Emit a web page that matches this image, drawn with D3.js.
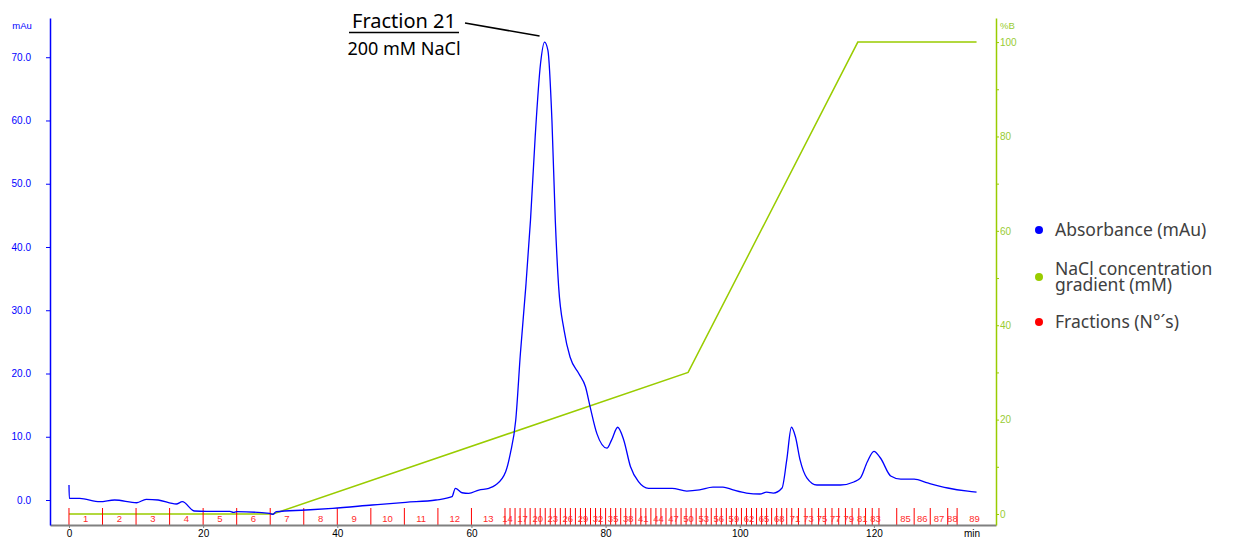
<!DOCTYPE html>
<html lang="en">
<head>
<meta charset="UTF-8">
<title>Ion exchange chromatogram</title>
<script src="https://d3js.org/d3.v7.min.js"></script>
<style>
    body { margin: 0; background: #fff; }
    .tick text { font-family: "Liberation Sans", Arial, sans-serif; }
    .legend text, .note text { font-family: "Noto Sans", "Open Sans", sans-serif; }
</style>
</head>
<body>
<div id="chart"></div>
<script>
    // absorbance trace (min, mAu)
    const absTime = [0, 0.05, 1.6, 4.6, 6.8, 10.1, 11.5, 13.3, 16.0, 16.9, 18.7, 20.5, 24, 24.5, 25,
        29.9, 30.4, 30.9, 35.3, 39.3, 45.2, 50.2, 54.7, 57.1, 57.6, 58.6, 59.6, 61.1, 62.6, 63.6,
        65.1, 65.8, 66.6, 67.3, 68.1, 68.8, 69.5, 70.3, 70.9, 71.4, 72.0, 72.5, 73.0, 73.8, 74.7,
        76.0, 77.0, 77.7, 78.7, 80.2, 80.9, 81.8, 82.7, 83.7, 84.9, 86.4, 89.9, 92.1, 94, 96,
        97.5, 99, 101, 103, 104, 105, 106.3, 107, 107.7, 108.3, 109, 110, 111.5, 115, 117,
        118, 119, 120, 121, 122.5, 124, 126, 128, 131, 134, 135.3];
    const absValue = [2.37, 0.27, 0.27, -0.27, 0, -0.43, 0.11, 0, -0.63, -0.27, -1.74, -1.79, -1.79, -1.95, -1.85,
        -2.1, -2.26, -1.85, -1.58, -1.31, -0.79, -0.36, 0, 0.52, 1.85, 1.15, 1.06, 1.58, 1.85, 2.37,
        4.47, 7.38, 12.6, 23.2, 33.7, 44.2, 57.4, 69.0, 72.4, 71.1, 60.0, 44.2, 33.7, 26.9, 22.6,
        20.0, 17.9, 14.7, 10.5, 8.2, 9.5, 11.5, 9.5, 5.3, 2.9, 1.85, 1.85, 1.42, 1.6, 2.05,
        2.05, 1.6, 1.1, 0.95, 1.25, 1.1, 1.9, 6.3, 11.5, 10.0, 6.3, 3.5, 2.37, 2.37, 2.85,
        3.5, 6.0, 7.7, 6.6, 3.8, 3.3, 3.3, 2.7, 1.9, 1.4, 1.25];

    // NaCl gradient (min, %B)
    const gradTime = [0, 30.4, 92.3, 117.6, 135.3];
    const gradValue = [0, 0, 30, 100, 100];

    // fraction start times (min), last entry is the end of fraction 89
    const fracNumbers = d3.range(1, 90);
    const fracStart = [0, 5, 10, 15, 20, 25, 30, 35, 40, 45, 50, 55, 60, 65,
        65.75, 66.5, 67.25, 68, 68.75, 69.5, 70.25, 71, 71.75, 72.5, 73.25, 74, 74.75, 75.5,
        76.25, 77, 77.75, 78.5, 79.25, 80, 80.75, 81.5, 82.25, 83, 83.75, 84.5, 85.25, 86,
        86.75, 87.5, 88.25, 89, 89.75, 90.5, 91.25, 92, 92.75, 93.5, 94.25, 95, 95.75, 96.5,
        97.25, 98, 98.75, 99.5, 100.25, 101, 101.75, 102.5, 103.25, 104, 104.75, 105.5, 106.25,
        107, 107.75, 108.75, 109.75, 110.75, 111.75, 112.75, 113.75, 114.75, 115.75, 116.75,
        117.75, 118.75, 119.75, 120.75, 123.4, 126, 128.4, 131, 132.4, 137.6];

    const leftTicks = [0, 10, 20, 30, 40, 50, 60, 70];
    const rightTicks = [0, 10, 20, 30, 40, 50, 60, 70, 80, 90, 100];
    const timeTicks = [0, 20, 40, 60, 80, 100, 120];

    const legendItems = [
        { color: "#0000ff", lines: ["Absorbance (mAu)"] },
        { color: "#99cc00", lines: ["NaCl concentration", "gradient (mM)"] },
        { color: "#ff0000", lines: ["Fractions (N\u00b0\u00b4s)"] }
    ];

    const width = 1233, height = 539;
    const blue = "#0000ff", green = "#99cc00", red = "#ff0000";

    const svg = d3.select("#chart").append("svg")
        .attr("width", width)
        .attr("height", height);

    const x = d3.scaleLinear().domain([-2.83, 138.2]).range([50, 996]);
    const yL = d3.scaleLinear().domain([-3.95, 76.2]).range([525, 18]);
    const yR = d3.scaleLinear().domain([-2.33, 105.1]).range([525, 18]);

    // gradient line
    const gradData = gradTime.map((t, i) => [t, gradValue[i]]);
    svg.append("path")
        .datum(gradData)
        .attr("fill", "none")
        .attr("stroke", green)
        .attr("stroke-width", 1.5)
        .attr("d", d3.line().x(d => x(d[0])).y(d => yR(d[1])));

    // fraction marks
    const fracG = svg.append("g");
    fracNumbers.forEach((n, i) => {
        fracG.append("line")
            .attr("x1", x(fracStart[i])).attr("x2", x(fracStart[i]))
            .attr("y1", 508).attr("y2", 525)
            .attr("stroke", red).attr("stroke-width", 1);
    });
    let lastLabel = -100;
    fracNumbers.forEach((n, i) => {
        const cx = (x(fracStart[i]) + x(fracStart[i + 1])) / 2;
        if (cx - lastLabel < 13) return;
        lastLabel = cx;
        fracG.append("text")
            .attr("x", cx).attr("y", 519)
            .attr("dy", "0.35em")
            .attr("text-anchor", "middle")
            .attr("fill", "#ff2a2a")
            .style("font", "9.5px 'Liberation Sans', Arial, sans-serif")
            .text(n);
    });

    // absorbance line
    const absData = absTime.map((t, i) => [t, absValue[i]]);
    svg.append("path")
        .datum(absData)
        .attr("fill", "none")
        .attr("stroke", blue)
        .attr("stroke-width", 1.3)
        .attr("d", d3.line().curve(d3.curveMonotoneX).x(d => x(d[0])).y(d => yL(d[1])));

    // axes
    const bottom = svg.append("g")
        .attr("transform", "translate(0,525)")
        .call(d3.axisBottom(x).tickValues(timeTicks).tickSize(3).tickSizeOuter(0).tickPadding(2));
    bottom.select(".domain").attr("stroke", "#808080").attr("stroke-width", 2);
    bottom.selectAll(".tick line").attr("stroke", "#808080");
    bottom.selectAll(".tick text").attr("fill", "#000").style("font-size", "10px");
    svg.append("text")
        .attr("x", 972).attr("y", 537)
        .attr("text-anchor", "middle")
        .style("font", "10px 'Liberation Sans', Arial, sans-serif")
        .text("min");

    const left = svg.append("g")
        .attr("transform", "translate(50,0)")
        .call(d3.axisLeft(yL).tickValues(leftTicks).tickFormat(d3.format(".1f"))
            .tickSize(4).tickSizeOuter(0).tickPadding(15));
    left.select(".domain").attr("stroke", blue).attr("stroke-width", 1.5);
    left.selectAll(".tick line").attr("stroke", blue);
    left.selectAll(".tick text").attr("fill", blue).style("font-size", "10px");
    svg.append("text")
        .attr("x", 22).attr("y", 29)
        .attr("text-anchor", "middle")
        .attr("fill", blue)
        .style("font", "9.5px 'Liberation Sans', Arial, sans-serif")
        .text("mAu");

    const right = svg.append("g")
        .attr("transform", "translate(996,0)")
        .call(d3.axisRight(yR).tickValues(rightTicks)
            .tickFormat(d => d % 20 === 0 ? d : "")
            .tickSize(3).tickSizeOuter(0).tickPadding(1));
    right.select(".domain").attr("stroke", green).attr("stroke-width", 1.5);
    right.selectAll(".tick line").attr("stroke", green);
    right.selectAll(".tick text").attr("fill", "#99cc33").style("font-size", "10px");
    svg.append("text")
        .attr("x", 1000).attr("y", 29)
        .attr("fill", "#99cc33")
        .style("font", "9.5px 'Liberation Sans', Arial, sans-serif")
        .text("%B");

    // annotation on the main peak
    const peakIdx = d3.maxIndex(absValue);
    const note = svg.append("g").attr("class", "note");
    note.append("text")
        .attr("x", 404).attr("y", 28)
        .attr("text-anchor", "middle")
        .attr("fill", "#000")
        .style("font-size", "20px")
        .text("Fraction 21");
    note.append("line")
        .attr("x1", 349).attr("x2", 459)
        .attr("y1", 32.5).attr("y2", 32.5)
        .attr("stroke", "#000").attr("stroke-width", 1.3);
    note.append("text")
        .attr("x", 404).attr("y", 55)
        .attr("text-anchor", "middle")
        .attr("fill", "#000")
        .style("font-size", "18px")
        .text("200 mM NaCl");
    note.append("line")
        .attr("x1", 465).attr("y1", 23)
        .attr("x2", x(absTime[peakIdx]) - 5).attr("y2", yL(absValue[peakIdx]) - 6)
        .attr("stroke", "#000").attr("stroke-width", 1.5);

    // legend (wrapped entries as tspans of one text)
    const legend = svg.append("g").attr("class", "legend");
    const legendY = [230, 277, 322];
    legendItems.forEach((item, i) => {
        legend.append("circle")
            .attr("cx", 1039).attr("cy", legendY[i]).attr("r", 4)
            .attr("fill", item.color);
        const n = item.lines.length;
        const t = legend.append("text")
            .attr("x", 1055)
            .attr("y", legendY[i] - (n - 1) / 2 * 16)
            .attr("fill", "#404040")
            .style("font-size", "17.5px");
        item.lines.forEach((s, j) => {
            t.append("tspan")
                .attr("x", 1055)
                .attr("dy", j === 0 ? "0.35em" : 16)
                .text(s);
        });
    });
</script>
</body>
</html>
